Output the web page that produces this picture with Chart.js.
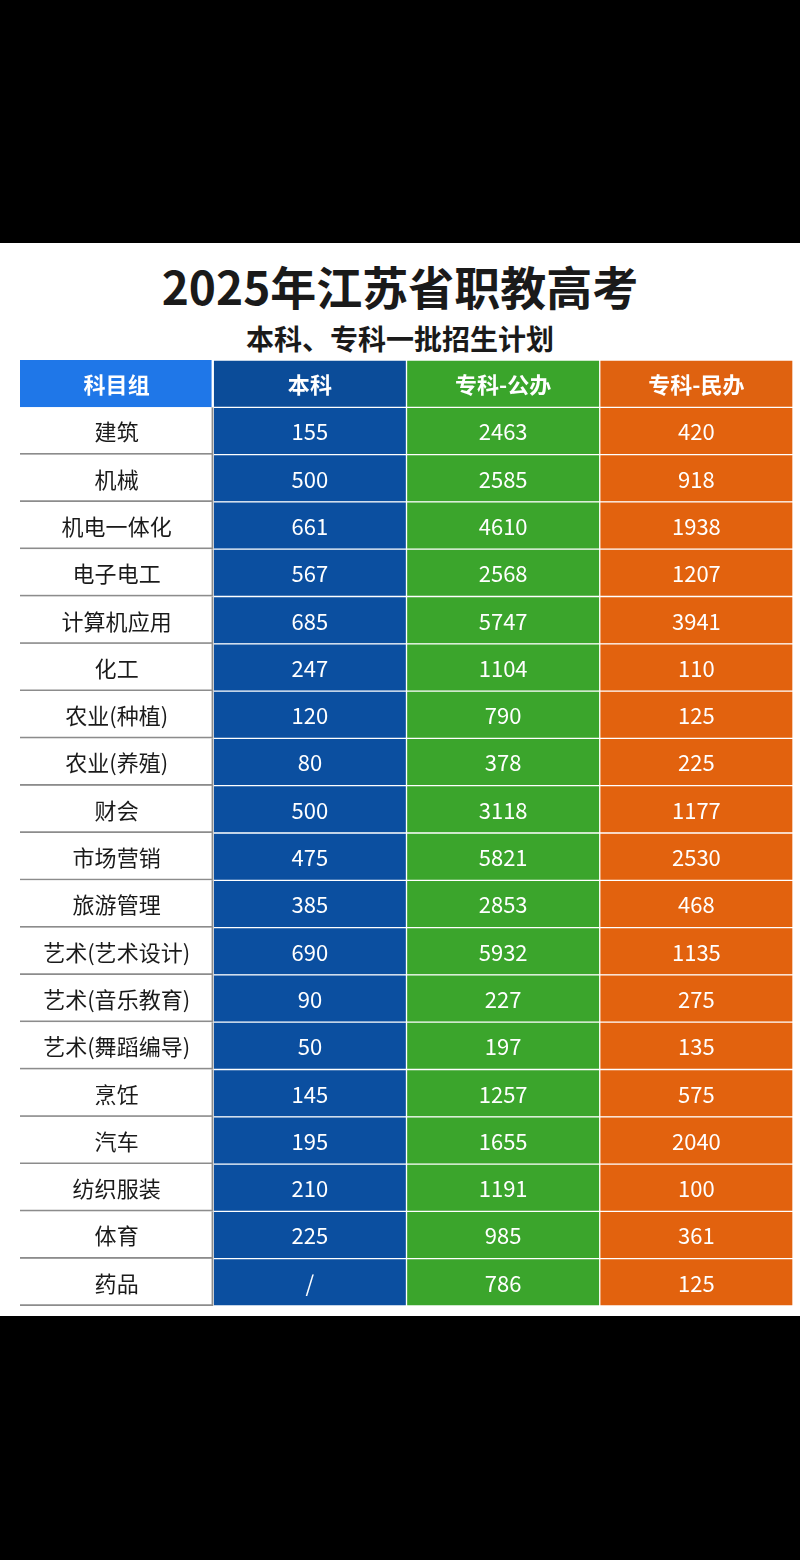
<!DOCTYPE html>
<html><head><meta charset="utf-8">
<script src="https://cdn.jsdelivr.net/npm/chart.js@4"></script>
<style>
html,body{margin:0;padding:0;background:#000;width:800px;height:1560px;overflow:hidden;font-family:"Noto Sans CJK SC",sans-serif}
#band{position:absolute;left:0;top:243px;width:800px;height:1073px;background:#fff}
#t1{position:absolute;left:0;width:800px;top:253px;text-align:center;font-size:46px;font-weight:bold;color:#1a1a1a;line-height:64px}
#t2{position:absolute;left:0;width:800px;top:318px;text-align:center;font-size:28px;font-weight:bold;color:#1a1a1a;line-height:40px}
#wrap{position:absolute;left:0;top:0;width:800px;height:1560px}
</style></head><body>
<div id="band"></div>
<div id="t1">2025年江苏省职教高考</div>
<div id="t2">本科、专科一批招生计划</div>
<div id="wrap"><canvas id="c"></canvas></div>
<script>
const headers = ["科目组","本科","专科-公办","专科-民办"];
const categories = ["建筑","机械","机电一体化","电子电工","计算机应用","化工","农业(种植)","农业(养殖)","财会","市场营销","旅游管理","艺术(艺术设计)","艺术(音乐教育)","艺术(舞蹈编导)","烹饪","汽车","纺织服装","体育","药品"];
const benke = ["155","500","661","567","685","247","120","80","500","475","385","690","90","50","145","195","210","225","/"];
const gongban = ["2463","2585","4610","2568","5747","1104","790","378","3118","5821","2853","5932","227","197","1257","1655","1191","985","786"];
const minban = ["420","918","1938","1207","3941","110","125","225","1177","2530","468","1135","275","135","575","2040","100","361","125"];

const rows = ["__h"].concat(categories);
const cols = [[headers[0]].concat(categories),[headers[1]].concat(benke),[headers[2]].concat(gongban),[headers[3]].concat(minban)];
const bg = [["#1f77e8","#ffffff"],["#0b4c99","#0b4fa0"],["#3aa52b","#3ba52c"],["#df6210","#e2620e"]];
const datasets = cols.map((col,ci)=>({
  label: headers[ci],
  data: rows.map((r,ri)=>[ci,ci+1]),
  texts: col,
  backgroundColor: rows.map((r,ri)=> ri===0?bg[ci][0]:bg[ci][1]),
  borderColor: ci===0 ? rows.map((r,ri)=>ri===0?"#ffffff":"#8c8c8c") : "#ffffff",
  borderWidth: ci===0 ? rows.map((r,ri)=>ri===0?{right:2}:{bottom:2,right:2}) : {left:1,right:1,top:1,bottom:1},
  borderSkipped:false,
  grouped:false,
  barPercentage:1,categoryPercentage:1
}));
const textPlugin = {id:"txt",afterDatasetsDraw(chart){
  const ctx=chart.ctx;
  chart.data.datasets.forEach((ds,di)=>{
    chart.getDatasetMeta(di).data.forEach((el,i)=>{
      const x=(el.x+el.base)/2, y=el.y;
      ctx.save();
      ctx.textAlign="center";ctx.textBaseline="middle";
      if(i===0){ctx.font="bold 22px 'Noto Sans CJK SC'";ctx.fillStyle="#fff";}
      else {ctx.font="22px 'Noto Sans CJK SC'";ctx.fillStyle= di===0?"#1a1a1a":"#fff";}
      ctx.fillText(ds.texts[i],x,y+1);
      ctx.restore();
    });
  });
}};
new Chart(document.getElementById("c"),{
  type:"bar",
  data:{labels:rows,datasets},
  options:{
    indexAxis:"y",responsive:true,maintainAspectRatio:false,animation:false,
    layout:{padding:{left:20,right:7,top:360,bottom:254}},
    plugins:{legend:{display:false},tooltip:{enabled:false}},
    scales:{x:{display:false,min:0,max:4},y:{display:false}}
  },
  plugins:[textPlugin]
});
</script></body></html>
